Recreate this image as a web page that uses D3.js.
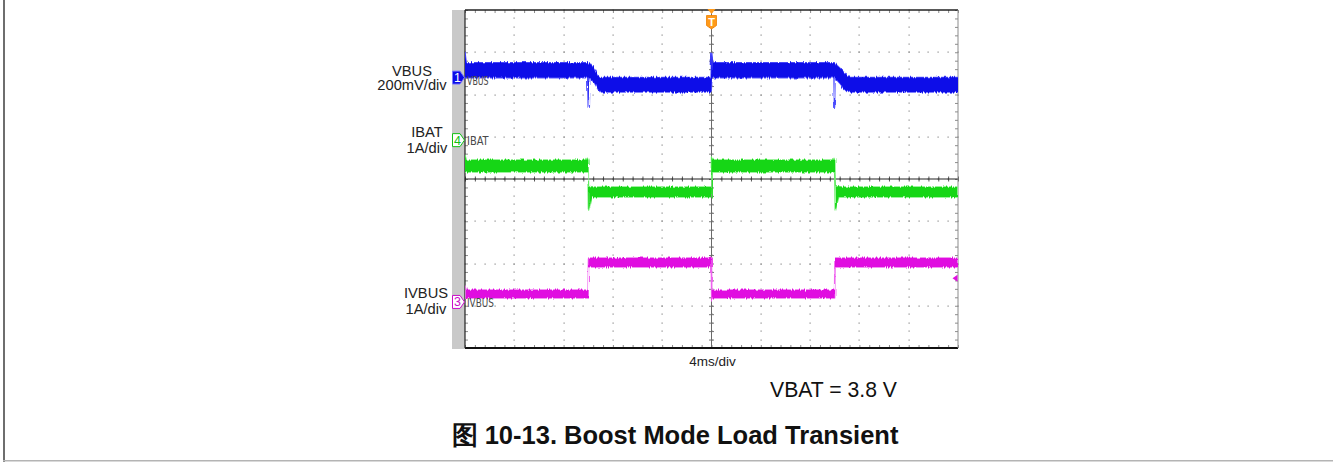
<!DOCTYPE html>
<html>
<head>
<meta charset="utf-8">
<script src="https://cdn.jsdelivr.net/npm/d3@7"></script>
<style>
  html, body { margin: 0; padding: 0; background: #fff; }
  svg { display: block; font-family: "Liberation Sans", Arial, sans-serif; }
</style>
</head>
<body>
<svg id="chart" width="1333" height="462"></svg>
<script>
// Timebase: 10 horizontal divisions at 4 ms/div, 8 vertical divisions
const timeDivisions = 10;
const msPerDiv = 4;
const verticalDivisions = 8;
const minorPerDiv = 5;

// Channel settings
const channelNames = ["VBUS", "IBAT", "IVBUS"];
const channelNumbers = ["1", "4", "3"];
const scaleLabels = ["200mV/div", "1A/div", "1A/div"];
const unitsPerDiv = [0.2, 1, 1];          // V/div, A/div, A/div
const referenceValue = [5.0, 0, 0];       // value at the channel marker
const markerDiv = [2.4, 0.92, -2.91];     // marker position, divisions from centre
const traceColors = ["#0b0be8", "#16d616", "#e010e0"];
const fringeColors = ["#5a5aff", "#7cf07c", "#f070f0"];

// Trace envelopes: [time ms, min, max]
const vbusEnvelope = [
  [0.00, 5.000, 5.115], [0.10, 5.000, 5.070], [9.96, 5.000, 5.070],
  [10.00, 4.860, 5.070], [10.04, 5.000, 5.068], [10.30, 4.990, 5.058],
  [10.55, 4.972, 5.035], [10.80, 4.945, 5.010], [11.00, 4.932, 5.000],
  [19.97, 4.932, 5.000], [20.02, 4.990, 5.115], [20.10, 5.000, 5.070],
  [29.94, 5.000, 5.070], [29.98, 4.860, 5.070], [30.02, 5.000, 5.066],
  [30.40, 4.975, 5.045], [30.80, 4.945, 5.020], [31.25, 4.932, 5.000],
  [40.00, 4.932, 5.000]
];
const ibatEnvelope = [
  [0.00, -0.755, -0.360], [0.10, -0.755, -0.470], [9.85, -0.755, -0.470],
  [9.92, -0.755, -0.430], [9.98, -0.755, -0.470], [10.02, -1.654, -1.110],
  [10.30, -1.347, -1.100], [10.60, -1.347, -1.110], [19.97, -1.347, -1.110],
  [20.01, -1.347, -0.400], [20.06, -0.755, -0.420], [20.20, -0.755, -0.470],
  [29.90, -0.755, -0.470], [29.95, -0.755, -0.430], [30.00, -0.755, -0.470],
  [30.04, -1.654, -1.110], [30.32, -1.347, -1.100], [30.60, -1.347, -1.110],
  [40.00, -1.347, -1.110]
];
const ivbusEnvelope = [
  [0.00, 0.092, 0.350], [0.10, 0.092, 0.282], [9.99, 0.092, 0.282],
  [10.02, 0.826, 1.039], [19.99, 0.826, 1.039], [20.02, 0.050, 0.282],
  [20.10, 0.092, 0.282], [29.99, 0.092, 0.282], [30.02, 0.826, 1.039],
  [40.00, 0.826, 1.039]
];
const envelopes = [vbusEnvelope, ibatEnvelope, ivbusEnvelope];

// Trigger level for IVBUS (A)
const triggerLevel = 0.56;

const svg = d3.select("#chart");
const W = 1333, H = 462;
const L = 465, R = 958, T = 10, B = 348;

const x = d3.scaleLinear().domain([0, timeDivisions * msPerDiv]).range([L, R]);
const yDiv = d3.scaleLinear().domain([-verticalDivisions / 2, verticalDivisions / 2]).range([B, T]);

function channelScale(i) {
  const lo = referenceValue[i] + (-verticalDivisions / 2 - markerDiv[i]) * unitsPerDiv[i];
  const hi = referenceValue[i] + (verticalDivisions / 2 - markerDiv[i]) * unitsPerDiv[i];
  return d3.scaleLinear().domain([lo, hi]).range([B, T]);
}

// Page frame
svg.append("rect").attr("x", 3).attr("y", 0).attr("width", 2).attr("height", H).attr("fill", "#6e6e6e");
svg.append("rect").attr("x", 3).attr("y", 460).attr("width", W - 3).attr("height", 1.5).attr("fill", "#b4b4b4");

// Defs: clip and trace texture
const defs = svg.append("defs");
defs.append("clipPath").attr("id", "plotClip")
  .append("rect").attr("x", L).attr("y", T).attr("width", R - L).attr("height", B - T);
const rough = defs.append("filter").attr("id", "rough")
  .attr("filterUnits", "userSpaceOnUse")
  .attr("x", 0).attr("y", 0).attr("width", W).attr("height", H);
rough.append("feTurbulence").attr("type", "fractalNoise")
  .attr("baseFrequency", "0.95 0.06").attr("numOctaves", 2).attr("seed", 7).attr("result", "n");
rough.append("feDisplacementMap").attr("in", "SourceGraphic").attr("in2", "n")
  .attr("scale", 4).attr("xChannelSelector", "A").attr("yChannelSelector", "R");

// Gray strip left of the graticule
svg.append("rect").attr("x", 452).attr("y", T).attr("width", L - 452).attr("height", B - T + 1)
  .attr("fill", "#c9c9c9");

// Graticule dots on major division lines
const g = svg.append("g");
const xMinor = d3.range(0, timeDivisions * msPerDiv + 1e-6, msPerDiv / minorPerDiv);
const yMinor = d3.range(-verticalDivisions / 2, verticalDivisions / 2 + 1e-6, 1 / minorPerDiv);
const xMajor = d3.range(1, timeDivisions).map(i => i * msPerDiv);
const yMajor = d3.range(-verticalDivisions / 2 + 1, verticalDivisions / 2);

xMajor.forEach(t => {
  g.selectAll(null).data(yMinor).join("rect")
    .attr("x", Math.round(x(t)) - 0.5).attr("y", d => Math.round(yDiv(d)) - 0.5)
    .attr("width", 1.2).attr("height", 1.2).attr("fill", "#8a8a8a");
});
yMajor.forEach(v => {
  g.selectAll(null).data(xMinor).join("rect")
    .attr("x", d => Math.round(x(d)) - 0.5).attr("y", Math.round(yDiv(v)) - 0.5)
    .attr("width", 1.2).attr("height", 1.2).attr("fill", "#8a8a8a");
});

// Border tick marks via axes
function ticksOnly(sel) { sel.select(".domain").remove(); sel.selectAll("text").remove(); }
const tickStyle = (sel, color) => sel.selectAll("line").attr("stroke", color);

g.append("g").attr("transform", `translate(0,${T})`)
  .call(d3.axisBottom(x).tickValues(xMinor).tickSize(3).tickFormat(""))
  .call(ticksOnly).call(s => tickStyle(s, "#8c8c8c"));
g.append("g").attr("transform", `translate(0,${B})`)
  .call(d3.axisTop(x).tickValues(xMinor).tickSize(3).tickFormat(""))
  .call(ticksOnly).call(s => tickStyle(s, "#8c8c8c"));
g.append("g").attr("transform", `translate(${L},0)`)
  .call(d3.axisRight(yDiv).tickValues(yMinor).tickSize(3).tickFormat(""))
  .call(ticksOnly).call(s => tickStyle(s, "#8c8c8c"));
g.append("g").attr("transform", `translate(${R},0)`)
  .call(d3.axisLeft(yDiv).tickValues(yMinor).tickSize(3).tickFormat(""))
  .call(ticksOnly).call(s => tickStyle(s, "#8c8c8c"));

// Centre cross with ticks on both sides
const cx = x(timeDivisions * msPerDiv / 2), cy = yDiv(0);
[d3.axisTop, d3.axisBottom].forEach(ax => {
  g.append("g").attr("transform", `translate(0,${cy})`)
    .call(ax(x).tickValues(xMinor).tickSize(2.5).tickFormat(""))
    .call(ticksOnly).call(s => tickStyle(s, "#555"));
});
[d3.axisLeft, d3.axisRight].forEach(ax => {
  g.append("g").attr("transform", `translate(${cx},0)`)
    .call(ax(yDiv).tickValues(yMinor).tickSize(2.5).tickFormat(""))
    .call(ticksOnly).call(s => tickStyle(s, "#777"));
});
g.append("line").attr("x1", cx).attr("x2", cx).attr("y1", T).attr("y2", B)
  .attr("stroke", "#6a6a6a").attr("stroke-width", 1);
g.append("line").attr("x1", L).attr("x2", R).attr("y1", cy).attr("y2", cy)
  .attr("stroke", "#222").attr("stroke-width", 1.2);

// Graticule border
g.append("line").attr("x1", L).attr("x2", R).attr("y1", T).attr("y2", T).attr("stroke", "#222").attr("stroke-width", 1.5);
g.append("line").attr("x1", L).attr("x2", R).attr("y1", B).attr("y2", B).attr("stroke", "#111").attr("stroke-width", 2);
g.append("line").attr("x1", L).attr("x2", L).attr("y1", T).attr("y2", B).attr("stroke", "#222").attr("stroke-width", 1.2);
g.append("line").attr("x1", R).attr("x2", R).attr("y1", T).attr("y2", B).attr("stroke", "#8c8c8c").attr("stroke-width", 1);

// Traces
const traces = svg.append("g").attr("clip-path", "url(#plotClip)");
envelopes.forEach((env, i) => {
  const y = channelScale(i);
  const area = d3.area().x(d => x(d[0])).y0(d => y(d[1])).y1(d => y(d[2]));
  const tg = traces.append("g").attr("filter", "url(#rough)");
  tg.append("path").attr("d", area(env))
    .attr("fill", traceColors[i]).attr("stroke", fringeColors[i]).attr("stroke-width", 1.6)
    .attr("stroke-linejoin", "round");
  tg.append("path").attr("d", area(env))
    .attr("fill", traceColors[i]).attr("stroke", "none");
});

// Channel tag text inside the graticule
const tagNudge = [5, 3, 3];
channelNames.forEach((name, i) => {
  const yy = yDiv(markerDiv[i]) + tagNudge[i] + 2;
  svg.append("text").attr("x", 467).attr("y", yy)
    .attr("font-family", "'Liberation Sans Narrow', 'DejaVu Sans Condensed', sans-serif")
    .attr("font-size", 12.5).attr("fill", "#4a4a4a")
    .attr("textLength", name.length * 5.4).attr("lengthAdjust", "spacingAndGlyphs")
    .text(name);
});

// Channel markers on the gray strip
channelNumbers.forEach((num, i) => {
  const yy = yDiv(markerDiv[i]);
  const filled = i === 0;
  svg.append("path")
    .attr("d", `M452.5,${yy - 6.5}H460L464.5,${yy}L460,${yy + 6.5}H452.5Z`)
    .attr("fill", filled ? traceColors[i] : "#fff")
    .attr("stroke", filled ? "#7a7aff" : d3.color(traceColors[i]).darker(0.3))
    .attr("stroke-width", 1);
  svg.append("text").attr("x", 457.5).attr("y", yy + 4.5)
    .attr("text-anchor", "middle").attr("font-size", 12.5)
    .attr("fill", filled ? "#fff" : d3.color(traceColors[i]).darker(0.3))
    .text(num);
});

// Channel names and scales to the left
const labelCenter = [412, 427, 426];
const nameBase = [76, 137, 298];
const scaleBase = [89.5, 152.5, 313.5];
channelNames.forEach((name, i) => {
  svg.append("text").attr("x", labelCenter[i]).attr("y", nameBase[i])
    .attr("text-anchor", "middle").attr("font-size", 14.7).attr("fill", "#222").text(name);
  svg.append("text").attr("x", labelCenter[i]).attr("y", scaleBase[i])
    .attr("text-anchor", "middle").attr("font-size", 14.7).attr("fill", "#222").text(scaleLabels[i]);
});

// Trigger position marker
svg.append("path").attr("d", `M${cx - 4},9 L${cx + 4},9 L${cx},14 Z`).attr("fill", "#ff9a1a");
svg.append("path")
  .attr("d", `M${cx - 5},15.5 H${cx + 5} V25.5 L${cx},29 L${cx - 5},25.5 Z`)
  .attr("fill", "#ff9a1a").attr("stroke", "#f08000").attr("stroke-width", 0.8);
svg.append("text").attr("x", cx).attr("y", 25.5).attr("text-anchor", "middle")
  .attr("font-size", 11).attr("font-weight", "bold").attr("fill", "#fff").text("T");

// Trigger level marker on the right edge
const ty = channelScale(2)(triggerLevel);
svg.append("path").attr("d", `M${R - 0.5},${ty - 3.5} L${R - 0.5},${ty + 3.5} L${R - 5.5},${ty} Z`)
  .attr("fill", traceColors[2]);

// Timebase label, test condition and caption
svg.append("text").attr("x", cx + 1).attr("y", 366).attr("text-anchor", "middle")
  .attr("font-size", 13.5).attr("fill", "#222").text(`${msPerDiv}ms/div`);
svg.append("text").attr("x", 770).attr("y", 397).attr("font-size", 21.2).attr("fill", "#111")
  .text("VBAT = 3.8 V");
svg.append("text").attr("x", 675).attr("y", 444).attr("text-anchor", "middle")
  .attr("font-size", 25.5).attr("font-weight", "bold").attr("fill", "#111")
  .text("图 10-13. Boost Mode Load Transient");
</script>
</body>
</html>
